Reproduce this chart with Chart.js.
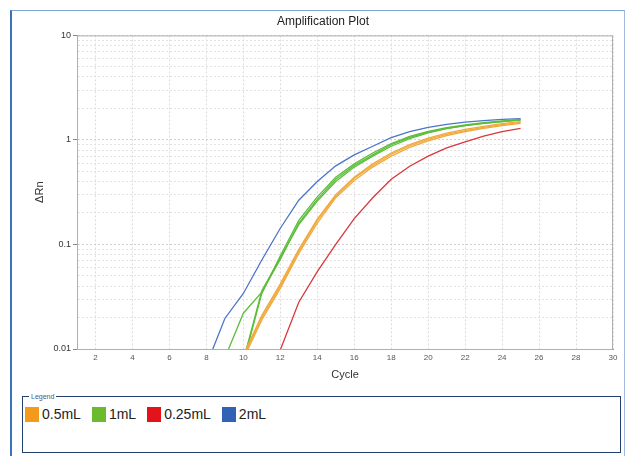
<!DOCTYPE html>
<html>
<head>
    <title>Amplification Plot</title>
    <script src="https://cdn.jsdelivr.net/npm/chart.js"></script>
    <style>
        body { margin: 0; background: #fff; font-family: 'Liberation Sans', Arial, sans-serif; }
        #frame { position: absolute; left: 10px; top: 10px; width: 612px; height: 460px;
                 border-left: 2px solid #3a74b8; border-top: 1px solid #7ea4d4; border-right: 1px solid #9fbbe0; }
        #plot { position: absolute; left: 0; top: 0; }
        #legendBox { position: absolute; left: 22px; top: 396px; width: 597px; height: 55px;
                     border: 1px solid #22416e; }
        #legendBox .caption { position: absolute; left: 6px; top: -5px; font-size: 7px; color: #4a5a80;
                              background: #fff; padding: 0 2px; line-height: 9px; }
        #legendItems { position: absolute; left: 2px; top: 9px; display: flex; align-items: center; }
        .item { display: flex; align-items: center; margin-right: 11px; font-size: 14px; color: #222; }
        .swatch { width: 14px; height: 15px; margin-right: 3px; }
    </style>
</head>
<body>
    <div id="frame"></div>
    <canvas id="plot" width="632" height="392"></canvas>
    <div id="legendBox"><span class="caption">Legend</span><div id="legendItems"></div></div>
    <script>
        // cycles on the x axis
        const cycles = [1, 2, 3, 4, 5, 6, 7, 8, 9, 10, 11, 12, 13, 14, 15, 16, 17, 18, 19, 20, 21, 22, 23, 24, 25];
        const xTicks = [2, 4, 6, 8, 10, 12, 14, 16, 18, 20, 22, 24, 26, 28, 30];
        const yTicks = [0.01, 0.1, 1, 10];
        const yTickLabels = ['0.01', '0.1', '1', '10'];

        const seriesNames = ['0.5mL', '1mL', '0.25mL', '2mL'];
        const legendColors = ['#f49a1a', '#6cbb2e', '#e3131b', '#3162b5'];
        const lineColors = ['#f0a93c', '#5dbd3c', '#d8383c', '#4d74c8'];

        // delta Rn per cycle, null before the curve leaves the floor
        const n = null;
        const half1 = [n, n, n, n, n, n, n, n, n, 0.0085, 0.020, 0.040, 0.086, 0.17, 0.29, 0.43, 0.57, 0.73, 0.88, 1.01, 1.13, 1.23, 1.32, 1.40, 1.47];
        const half2 = [n, n, n, n, n, n, n, n, n, 0.008, 0.019, 0.038, 0.082, 0.16, 0.28, 0.41, 0.55, 0.70, 0.85, 0.98, 1.10, 1.20, 1.29, 1.37, 1.44];
        const half3 = [n, n, n, n, n, n, n, n, n, 0.0088, 0.021, 0.042, 0.090, 0.175, 0.30, 0.44, 0.59, 0.75, 0.90, 1.04, 1.16, 1.26, 1.35, 1.43, 1.50];
        const one1 = [n, n, n, n, n, n, n, n, 0.0082, 0.022, 0.035, 0.072, 0.16, 0.27, 0.42, 0.57, 0.72, 0.90, 1.06, 1.19, 1.29, 1.37, 1.44, 1.50, 1.55];
        const one2 = [n, n, n, n, n, n, n, n, n, 0.0074, 0.034, 0.078, 0.17, 0.285, 0.44, 0.59, 0.75, 0.92, 1.08, 1.21, 1.31, 1.39, 1.46, 1.52, 1.57];
        const one3 = [n, n, n, n, n, n, n, n, n, 0.0078, 0.036, 0.075, 0.155, 0.26, 0.40, 0.55, 0.70, 0.87, 1.03, 1.17, 1.28, 1.37, 1.44, 1.50, 1.56];
        const quarter1 = [n, n, n, n, n, n, n, n, n, n, n, 0.0098, 0.028, 0.055, 0.10, 0.177, 0.28, 0.42, 0.56, 0.70, 0.84, 0.96, 1.09, 1.20, 1.29];
        const two1 = [n, n, n, n, n, n, n, 0.007, 0.0196, 0.034, 0.071, 0.143, 0.265, 0.40, 0.565, 0.72, 0.87, 1.05, 1.20, 1.32, 1.41, 1.48, 1.53, 1.57, 1.60];

        // replicate wells grouped by series index
        const wells = [
            [0, half1], [0, half2], [0, half3],
            [1, one1], [1, one2], [1, one3],
            [2, quarter1],
            [3, two1]
        ];

        const datasets = wells.map(([s, vals]) => ({
            label: seriesNames[s],
            data: vals,
            borderColor: lineColors[s],
            borderWidth: 1.3,
            pointRadius: 0,
            tension: 0,
            fill: false
        }));

        // light box around the plotting area
        const areaBox = {
            id: 'areaBox',
            afterDatasetsDraw(chart) {
                const a = chart.chartArea, c = chart.ctx;
                c.save();
                c.strokeStyle = '#b0b0b0';
                c.lineWidth = 1;
                c.strokeRect(a.left + 0.5, a.top + 0.5, a.right - a.left - 1, a.bottom - a.top);
                c.restore();
            }
        };

        const isDecade = v => yTicks.some(t => Math.abs(t - v) < t * 1e-6);

        new Chart(document.getElementById('plot').getContext('2d'), {
            type: 'line',
            data: { labels: cycles, datasets: datasets },
            plugins: [areaBox],
            options: {
                responsive: false,
                animation: false,
                layout: { padding: { left: 33, right: 19, top: 0, bottom: 0 } },
                plugins: {
                    legend: { display: false },
                    tooltip: { enabled: false },
                    title: {
                        display: true,
                        text: 'Amplification Plot',
                        color: '#222',
                        font: { family: "'Liberation Sans', Arial", size: 12, weight: 'normal' },
                        padding: { top: 14, bottom: 7 }
                    }
                },
                scales: {
                    x: {
                        type: 'linear',
                        min: 1,
                        max: 30,
                        afterFit(s) { s.height = 43; },
                        afterBuildTicks(s) { s.ticks = xTicks.map(v => ({ value: v })); },
                        ticks: {
                            autoSkip: false,
                            maxRotation: 0,
                            padding: 4,
                            color: '#555',
                            font: { family: "'Liberation Sans', Arial", size: 8 }
                        },
                        grid: { color: '#dcdcdc', drawTicks: false },
                        border: { color: '#999', dash: [2, 2] },
                        title: {
                            display: true,
                            text: 'Cycle',
                            color: '#333',
                            font: { family: "'Liberation Sans', Arial", size: 11 },
                            padding: { top: 0, bottom: 10 }
                        }
                    },
                    y: {
                        type: 'logarithmic',
                        min: 0.01,
                        max: 10,
                        afterFit(s) { s.width = 44; },
                        afterBuildTicks(s) {
                            const t = [];
                            for (let d = 0.01; d < 5; d *= 10) {
                                for (let k = 1; k <= 9; k++) t.push({ value: +(k * d).toPrecision(3) });
                            }
                            t.push({ value: 10 });
                            s.ticks = t;
                        },
                        ticks: {
                            autoSkip: false,
                            padding: 2,
                            color: '#333',
                            font: { family: "'Liberation Sans', Arial", size: 9 },
                            callback(v) {
                                const i = yTicks.findIndex(t => Math.abs(t - v) < t * 1e-6);
                                return i >= 0 ? yTickLabels[i] : '';
                            }
                        },
                        grid: {
                            color: ctx => ctx.tick && isDecade(ctx.tick.value) ? '#cfcfcf' : '#e2e2e2',
                            tickColor: ctx => ctx.tick && isDecade(ctx.tick.value) ? '#888' : 'rgba(0,0,0,0)',
                            tickLength: 4
                        },
                        border: { color: '#999', dash: [2, 2] },
                        title: {
                            display: true,
                            text: 'ΔRn',
                            color: '#333',
                            font: { family: "'Liberation Sans', Arial", size: 11 },
                            padding: { top: 0, bottom: 0 }
                        }
                    }
                }
            }
        });

        // legend boxes built from the series arrays
        const legendItems = document.getElementById('legendItems');
        seriesNames.forEach((name, i) => {
            const item = document.createElement('div');
            item.className = 'item';
            const sw = document.createElement('span');
            sw.className = 'swatch';
            sw.style.background = legendColors[i];
            const label = document.createElement('span');
            label.textContent = name;
            item.appendChild(sw);
            item.appendChild(label);
            legendItems.appendChild(item);
        });
    </script>
</body>
</html>
